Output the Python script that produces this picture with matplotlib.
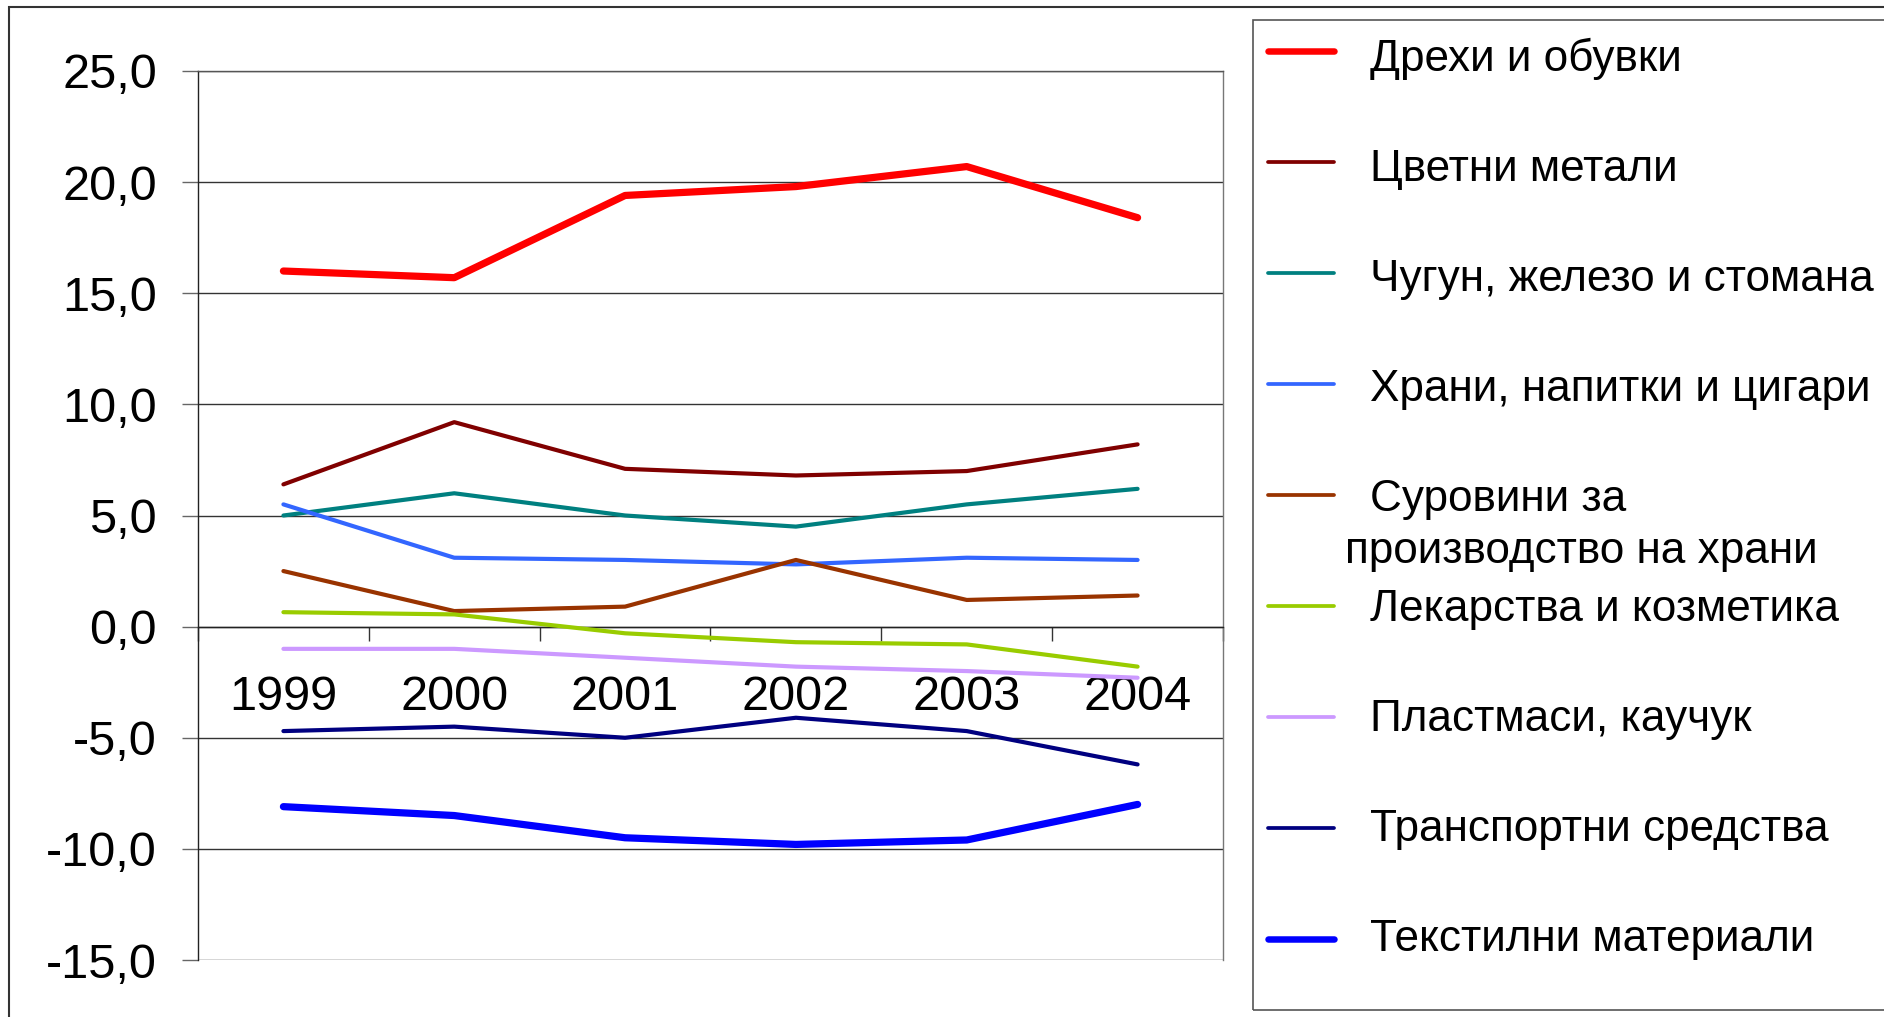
import numpy as np
import matplotlib
matplotlib.use("Agg")
import matplotlib.pyplot as plt
from matplotlib.lines import Line2D
from matplotlib.patches import Rectangle
from matplotlib.ticker import FixedLocator, FuncFormatter

plt.rcParams['font.family'] = ['Liberation Sans', 'DejaVu Sans']

# ---- data ----
years = ["1999", "2000", "2001", "2002", "2003", "2004"]
labels = ["Дрехи и обувки", "Цветни метали", "Чугун, железо и стомана",
          "Храни, напитки и цигари", "Суровини за\nпроизводство на храни",
          "Лекарства и козметика", "Пластмаси, каучук",
          "Транспортни средства", "Текстилни материали"]
dreh = [16.0, 15.7, 19.4, 19.8, 20.7, 18.4]
cvetni = [6.4, 9.2, 7.1, 6.8, 7.0, 8.2]
chugun = [5.0, 6.0, 5.0, 4.5, 5.5, 6.2]
hrani = [5.5, 3.1, 3.0, 2.8, 3.1, 3.0]
surovini = [2.5, 0.7, 0.9, 3.0, 1.2, 1.4]
lekarstva = [0.65, 0.55, -0.3, -0.7, -0.8, -1.8]
plastmasi = [-1.0, -1.0, -1.4, -1.8, -2.0, -2.3]
transport = [-4.7, -4.5, -5.0, -4.1, -4.7, -6.2]
tekstil = [-8.1, -8.5, -9.5, -9.8, -9.6, -8.0]
series = [dreh, cvetni, chugun, hrani, surovini, lekarstva, plastmasi, transport, tekstil]
colors = ["#FF0000", "#800000", "#008080", "#3366FF", "#993300",
          "#99CC00", "#CC99FF", "#000080", "#0000FF"]
widths = [5.2, 3.0, 3.0, 3.0, 3.0, 3.0, 3.0, 3.0, 5.2]
yticks = [-15, -10, -5, 0, 5, 10, 15, 20, 25]

W, H = 1884, 1017
fig = plt.figure(figsize=(W / 100, H / 100), dpi=100)
fx = lambda px: px / W
fy = lambda py: 1 - py / H

ax = fig.add_axes([fx(198), fy(960), fx(1223) - fx(198), fy(71) - fy(960)])
x = np.arange(len(years))
for s, c, lw in zip(series, colors, widths):
    ax.plot(x, s, color=c, lw=lw, solid_capstyle='round', solid_joinstyle='round', zorder=3)

ax.set_xlim(-0.5, len(years) - 0.5)
ax.set_ylim(-15, 25)
ax.yaxis.set_major_locator(FixedLocator(yticks))
ax.yaxis.set_major_formatter(FuncFormatter(lambda v, p: f"{v:.1f}".replace('.', ',')))
ax.grid(axis='y', color='#333333', lw=1.0, zorder=1)
ax.tick_params(axis='y', direction='out', length=11.5, width=1.0, color='#666666',
               pad=18, labelsize=35)

ax.set_xticks(x)
ax.set_xticklabels(years)
ax.set_xticks(np.arange(-0.5, len(years)), minor=True)
ax.tick_params(axis='x', which='major', length=0, pad=35, labelsize=35)
ax.tick_params(axis='x', which='minor', direction='out', length=10, width=1.0, color='#333333')

ax.spines['bottom'].set_position(('data', 0))
ax.spines['bottom'].set_color('#222222')
ax.spines['left'].set_color('#222222')
ax.spines['top'].set_color('#555555')
ax.spines['right'].set_color('#777777')
for sp in ax.spines.values():
    sp.set_linewidth(1.0)

# outer chart border
fig.add_artist(Rectangle((fx(9), -0.1), 1.2, fy(7) + 0.1, fill=False,
                         edgecolor='#333333', lw=1.5, transform=fig.transFigure))
# legend box
fig.add_artist(Rectangle((fx(1253), fy(1010)), 0.6, fy(20) - fy(1010), fill=False,
                         edgecolor='#555555', lw=1.2, transform=fig.transFigure))
for i, (lab, c, lw) in enumerate(zip(labels, colors, widths)):
    yy = 51 + 110.95 * i
    fig.add_artist(Line2D([fx(1268), fx(1334)], [fy(yy), fy(yy)], color=c,
                          lw=lw * 0.9, solid_capstyle='round', transform=fig.transFigure))
    ty = 59 + 110.0 * i
    for j, ln in enumerate(lab.split("\n")):
        xx = 1370 if j == 0 else 1345
        fig.text(fx(xx), fy(ty + 52 * j), ln, fontsize=31.8, va='center', ha='left')

fig.savefig("out.png", dpi=100)
